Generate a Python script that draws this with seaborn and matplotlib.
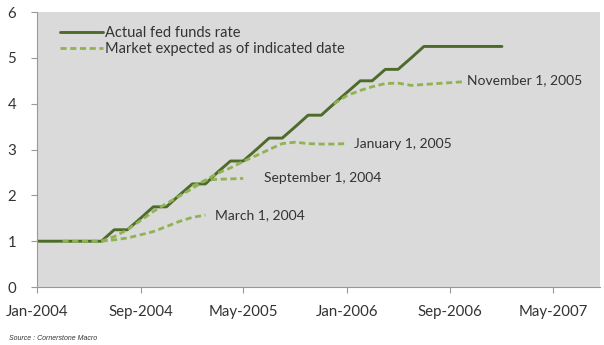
import matplotlib
matplotlib.use("Agg")
import matplotlib.pyplot as plt
import matplotlib.dates as mdates
import seaborn as sns
import pandas as pd

# ---- data (monthly, start-of-month) ----
actual_start = "2004-01-01"
actual_rate = [1.00, 1.00, 1.00, 1.00, 1.00, 1.00, 1.25, 1.25, 1.50, 1.75, 1.75, 2.00,
               2.25, 2.25, 2.50, 2.75, 2.75, 3.00, 3.25, 3.25, 3.50, 3.75, 3.75, 4.00,
               4.25, 4.50, 4.50, 4.75, 4.75, 5.00, 5.25, 5.25, 5.25, 5.25, 5.25, 5.25,
               5.25]

mar2004_start = "2004-03-01"
mar2004_expected = [1.00, 1.00, 1.00, 1.00, 1.03, 1.07, 1.14, 1.21, 1.32, 1.43, 1.52, 1.57]

sep2004_start = "2004-06-01"
sep2004_expected = [1.00, 1.10, 1.25, 1.45, 1.65, 1.82, 1.98, 2.15, 2.33, 2.35, 2.36, 2.37]

jan2005_start = "2005-01-01"
jan2005_expected = [2.20, 2.33, 2.48, 2.60, 2.74, 2.87, 3.00, 3.13, 3.16, 3.13, 3.12, 3.12, 3.13]

nov2005_start = "2005-12-01"
nov2005_expected = [4.00, 4.18, 4.29, 4.37, 4.44, 4.45, 4.40, 4.42, 4.44, 4.46, 4.48]

labels = ["March 1, 2004", "September 1, 2004", "January 1, 2005", "November 1, 2005"]
tick_dates = ["2004-01-01", "2004-09-01", "2005-05-01", "2006-01-01", "2006-09-01", "2007-05-01"]
y_ticks = [0, 1, 2, 3, 4, 5, 6]

# ---- build frames ----
def frame(start, vals):
    return pd.DataFrame({"date": pd.date_range(start, periods=len(vals), freq="MS"),
                         "rate": vals})

actual_df = frame(actual_start, actual_rate)
exp_dfs = [frame(mar2004_start, mar2004_expected),
           frame(sep2004_start, sep2004_expected),
           frame(jan2005_start, jan2005_expected),
           frame(nov2005_start, nov2005_expected)]

sns.set_theme(style="white")
plt.rcParams["font.family"] = ["Lato", "DejaVu Sans"]

DARK = "#4e6b2b"
LIGHT = "#8fb350"

fig = plt.figure(figsize=(6.04, 3.45), dpi=100)
ax = fig.add_axes([0.0613, 0.168, 0.932, 0.797])
ax.set_facecolor("#dadada")

sns.lineplot(data=actual_df, x="date", y="rate", ax=ax, color=DARK, lw=2.1,
             label="Actual fed funds rate")
for i, d in enumerate(exp_dfs):
    sns.lineplot(data=d, x="date", y="rate", ax=ax, color=LIGHT, lw=2.0,
                 linestyle=(0, (2.2, 1.3)),
                 label="Market expected as of indicated date" if i == 0 else None)

# annotations near ends of the expected lines
offsets = [(7, 0), (15, 0), (5, 0), (3, 1)]
for d, lab, off in zip(exp_dfs, labels, offsets):
    ax.annotate(lab, xy=(d["date"].iloc[-1], d["rate"].iloc[-1]), xytext=off,
                textcoords="offset points", va="center", ha="left",
                fontsize=10, color="#333333")

ax.set_xlim(pd.Timestamp("2004-01-01"), pd.Timestamp("2007-08-20"))
ax.set_ylim(0, 6)
ax.set_yticks(y_ticks)
ax.set_xticks(pd.to_datetime(tick_dates))
ax.xaxis.set_major_formatter(mdates.DateFormatter("%b-%Y"))
ax.set_xlabel("")
ax.set_ylabel("")
ax.tick_params(axis="both", which="major", length=4, width=0.8, color="#999999",
               labelsize=10.8, labelcolor="#333333", direction="out",
               bottom=True, left=True)
ax.tick_params(axis="x", pad=9)
ax.tick_params(axis="y", pad=11)
for s in ["top", "right"]:
    ax.spines[s].set_visible(False)
for s in ["left", "bottom"]:
    ax.spines[s].set_color("#999999")
    ax.spines[s].set_linewidth(0.8)

leg = ax.legend(loc="upper left", bbox_to_anchor=(0.03, 0.97), frameon=False,
                fontsize=10.5, handlelength=3.0, handletextpad=0.1,
                labelspacing=0.15, borderaxespad=0)
for t in leg.get_texts():
    t.set_color("#333333")

fig.text(0.015, 0.015, "Source : Cornerstone Macro", fontsize=5, style="italic",
         color="#333333", family=["Liberation Sans", "DejaVu Sans"])

fig.savefig("out.png", dpi=100, facecolor="white")
